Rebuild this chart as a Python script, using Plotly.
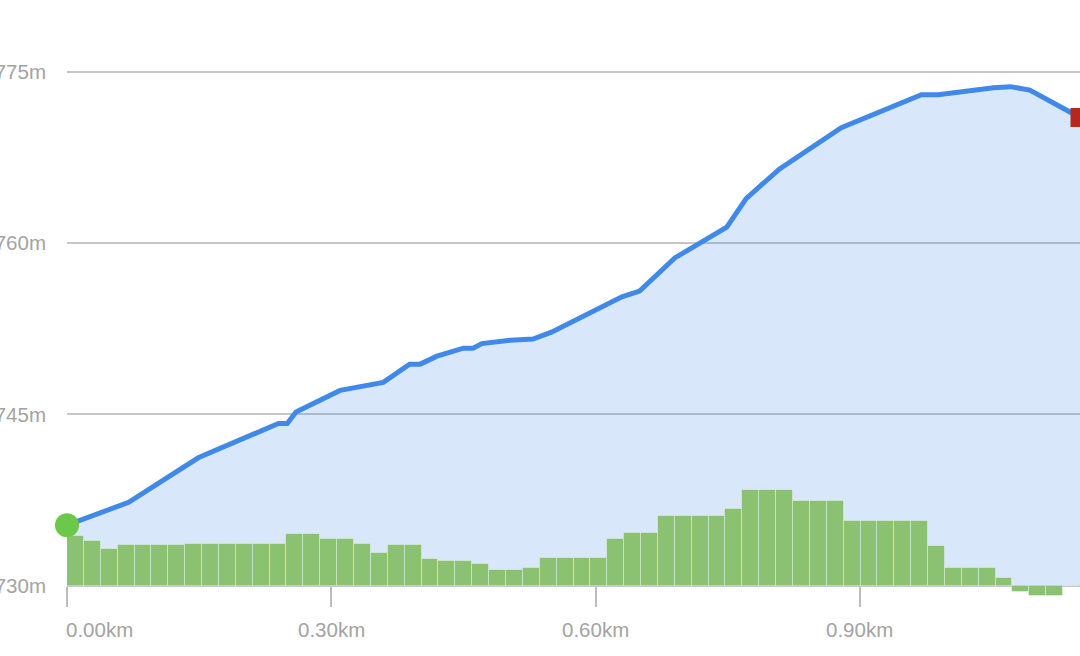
import plotly.graph_objects as go

# elevation profile (distance in km, elevation in m)
dist_km = [0.000, 0.070, 0.149, 0.240, 0.250, 0.260, 0.310, 0.359, 0.389, 0.401,
           0.420, 0.450, 0.461, 0.471, 0.503, 0.529, 0.550, 0.630, 0.650, 0.690,
           0.749, 0.771, 0.809, 0.879, 0.970, 0.989, 1.052, 1.071, 1.093, 1.150]
elev_m = [735.3, 737.3, 741.2, 744.2, 744.2, 745.2, 747.1, 747.8, 749.4, 749.4,
          750.1, 750.8, 750.8, 751.2, 751.5, 751.6, 752.2, 755.3, 755.8, 758.7,
          761.4, 763.9, 766.5, 770.1, 773.0, 773.0, 773.6, 773.7, 773.4, 771.0]

# gradient per segment (%), 60 equal segments over the track
grade_pct = [5.0, 4.5, 3.7, 4.1, 4.1, 4.1, 4.1, 4.2, 4.2, 4.2,
             4.2, 4.2, 4.2, 5.2, 5.2, 4.7, 4.7, 4.2, 3.3, 4.1,
             4.1, 2.7, 2.5, 2.5, 2.2, 1.6, 1.6, 1.8, 2.8, 2.8,
             2.8, 2.8, 4.7, 5.3, 5.3, 7.0, 7.0, 7.0, 7.0, 7.7,
             9.6, 9.6, 9.6, 8.5, 8.5, 8.5, 6.5, 6.5, 6.5, 6.5,
             6.5, 4.0, 1.8, 1.8, 1.8, 0.8, -0.6, -1.0, -1.0, 0.0]

x_ticks = [0.0, 0.3, 0.6, 0.9]
x_labels = ["0.00km", "0.30km", "0.60km", "0.90km"]
y_ticks = [730, 745, 760, 775]
y_labels = ["730m", "745m", "760m", "775m"]

BASE_M = 730
TRACK_KM = dist_km[-1]
seg_km = TRACK_KM / len(grade_pct)
seg_start = [i * seg_km for i in range(len(grade_pct))]

Y_LO, Y_HI = 728.57, 778.66
GRADE_PER_M = 1.142  # y2 scale so that 0% sits on the 730m line
pos_730 = (BASE_M - Y_LO) / (Y_HI - Y_LO)

FONT = "Liberation Sans, Arial, Helvetica, sans-serif"
LABEL_COLOR = "#a3a3a3"
FONT_SIZE = 20.5

fig = go.Figure()

# floor of the filled area
fig.add_trace(go.Scatter(x=[0, TRACK_KM], y=[BASE_M, BASE_M], mode="lines",
                         line=dict(width=0), hoverinfo="skip", showlegend=False))
fig.add_trace(go.Scatter(x=dist_km, y=elev_m, mode="lines", line=dict(width=0),
                         fill="tonexty", fillcolor="rgba(65,135,235,0.2)",
                         hoverinfo="skip", showlegend=False))

fig.add_trace(go.Bar(x=seg_start, y=grade_pct, width=seg_km, offset=0, yaxis="y2",
                     marker=dict(color="#8ac272",
                                 line=dict(color="rgba(255,255,255,0.35)", width=1)),
                     showlegend=False))

fig.add_trace(go.Scatter(x=dist_km, y=elev_m, mode="lines", yaxis="y3",
                         line=dict(color="#4189e9", width=5), showlegend=False))
fig.add_trace(go.Scatter(x=[dist_km[0]], y=[elev_m[0]], mode="markers", yaxis="y3",
                         marker=dict(color="#6cc84a", size=24, line=dict(width=0)),
                         cliponaxis=False, showlegend=False))
fig.add_trace(go.Scatter(x=[dist_km[-1]], y=[elev_m[-1]], mode="markers", yaxis="y3",
                         marker=dict(color="#b7271d", size=19, symbol="square",
                                     line=dict(width=0)),
                         cliponaxis=False, showlegend=False))

for xv, lab in zip(x_ticks, x_labels):
    fig.add_annotation(x=xv, y=BASE_M, xref="x", yref="y", text=lab, showarrow=False,
                       xanchor="left" if xv == 0 else "center", yanchor="top",
                       xshift=-3 if xv == 0 else 0, yshift=-30,
                       font=dict(family=FONT, size=FONT_SIZE, color=LABEL_COLOR))

fig.update_layout(
    width=1080, height=656,
    margin=dict(l=67, r=0, t=30, b=54),
    paper_bgcolor="white", plot_bgcolor="white",
    hovermode=False, bargap=0,
    font=dict(family=FONT, size=FONT_SIZE, color=LABEL_COLOR),
    xaxis=dict(range=[0, TRACK_KM], anchor="free", position=pos_730,
               tickvals=x_ticks, showticklabels=False, ticks="outside",
               ticklen=20, tickwidth=2, tickcolor="#bdbdbd",
               showgrid=False, zeroline=False, showline=False, automargin=False),
    yaxis=dict(range=[Y_LO, Y_HI], tickvals=y_ticks, ticktext=y_labels,
               ticklabelstandoff=20, showgrid=True, gridcolor="#c6c6c6",
               gridwidth=1.5, zeroline=False, showline=False, automargin=False),
    yaxis2=dict(range=[(Y_LO - BASE_M) * GRADE_PER_M, (Y_HI - BASE_M) * GRADE_PER_M],
                overlaying="y", visible=False),
    yaxis3=dict(range=[Y_LO, Y_HI], overlaying="y", visible=False),
)

# drop the default 8px page margin so the chart sits flush with the window
page_fix = "document.body.style.margin='0';document.body.style.overflow='hidden';"
fig.write_html("out.html", config={"displayModeBar": False}, post_script=page_fix)
